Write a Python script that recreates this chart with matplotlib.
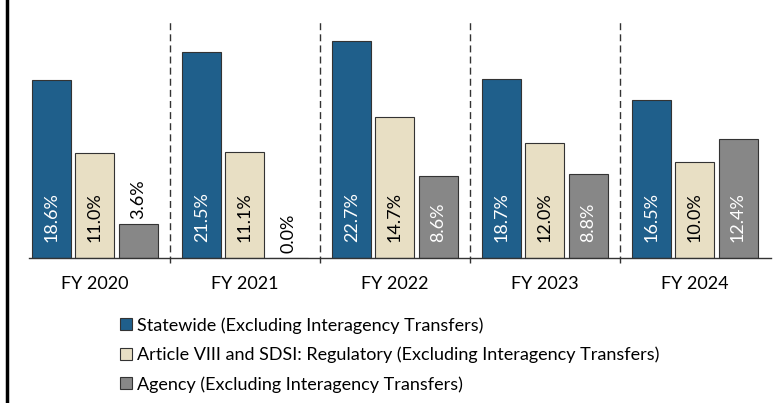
import numpy as np
import matplotlib.pyplot as plt
from matplotlib.patches import Patch
from matplotlib.lines import Line2D

plt.rcParams['font.family'] = ['Lato', 'DejaVu Sans']

years = ["FY 2020", "FY 2021", "FY 2022", "FY 2023", "FY 2024"]
statewide = [18.6, 21.5, 22.7, 18.7, 16.5]
regulatory = [11.0, 11.1, 14.7, 12.0, 10.0]
agency = [3.6, 0.0, 8.6, 8.8, 12.4]

series = [
    ("Statewide (Excluding Interagency Transfers)", statewide, "#1f5f8b", "white"),
    ("Article VIII and SDSI: Regulatory (Excluding Interagency Transfers)", regulatory, "#e8dfc4", "black"),
    ("Agency (Excluding Interagency Transfers)", agency, "#878787", "white"),
]

fig = plt.figure(figsize=(7.8, 4.03), dpi=100)
ax = fig.add_axes([29 / 780, 145 / 403, 742 / 780, 248 / 403])

x = np.arange(len(years))
width = 0.26
offsets = [-0.287, 0.0, 0.287]

for (name, vals, color, tcolor), off in zip(series, offsets):
    ax.bar(x + off, vals, width, color=color, edgecolor="#333333", linewidth=0.8, zorder=2)
    for xi, v in zip(x, vals):
        label = f"{v:.1f}%"
        if v < 6:
            ax.text(xi + off, v + 0.5, label, rotation=90, ha="center", va="bottom",
                    fontsize=13, color="black")
        else:
            ax.text(xi + off, 1.65, label, rotation=90, ha="center", va="bottom",
                    fontsize=13, color=tcolor)

# dashed separators between the years
for s in x[:-1] + 0.5:
    ax.plot([s, s], [-0.5, 24.9], linestyle=(0, (5, 3)), color="#333333",
            linewidth=1.0, clip_on=False, zorder=1)

ax.set_xlim(-0.44, 4.507)
ax.set_ylim(0, 25.9)
ax.set_xticks(x)
ax.set_xticklabels(years, fontsize=13)
ax.tick_params(axis="x", length=0, pad=13)
ax.set_yticks([])
for side in ["top", "right", "left"]:
    ax.spines[side].set_visible(False)
ax.spines["bottom"].set_color("#333333")
ax.spines["bottom"].set_linewidth(1.0)

# thick left rule
fig.add_artist(Line2D([7 / 780, 7 / 780], [0, 1], color="black", linewidth=2.5))

handles = [Patch(facecolor=c, edgecolor="#333333", linewidth=0.8) for _, _, c, _ in series]
fig.legend(handles, [s[0] for s in series], loc="upper left",
           bbox_to_anchor=(120 / 780, 1 - 317 / 403), frameon=False, fontsize=13,
           handlelength=0.65, handleheight=0.65, handletextpad=0.3, labelspacing=0.72,
           borderpad=0, borderaxespad=0)

fig.savefig("out.png", dpi=100)
